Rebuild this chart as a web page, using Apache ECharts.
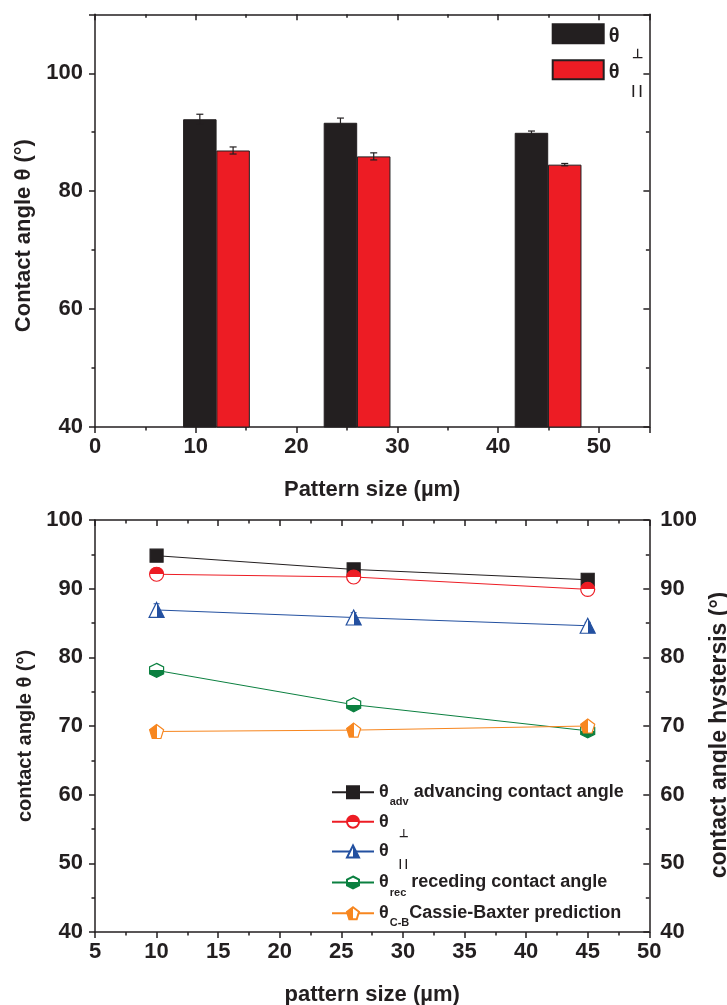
<!DOCTYPE html>
<html><head><meta charset="utf-8">
<script src="https://cdn.jsdelivr.net/npm/echarts@6/dist/echarts.min.js"></script>
<style>html,body{margin:0;padding:0;background:#fff}#c{width:727px;height:1005px}</style>
</head><body><div id="c"></div>
<script>
// ---------- top chart (bars) ----------
const barXPerp = [10.4, 24.35, 43.3];      // x centre of θ⊥ bars
const barXPar  = [13.7, 27.65, 46.6];      // x centre of θ|| bars
const barPerp  = [92.2, 91.6, 89.9];
const barPar   = [86.9, 85.9, 84.5];
const errBarPerp = [0.85, 0.8, 0.3];
const errBarPar  = [0.6, 0.6, 0.2];

// ---------- bottom chart (lines) ----------
const patternSizes = [10, 26, 45];
const thetaAdv  = [94.8, 92.8, 91.3];
const thetaPerp = [92.1, 91.7, 89.9];
const thetaPar  = [86.9, 85.8, 84.6];
const thetaRec  = [78.1, 73.1, 69.3];
const thetaCB   = [69.2, 69.4, 70.0];
const errAdv  = [0.8, 0.4, 0.3];
const errPerp = [0.9, 0.5, 0.3];
const errPar  = [0.9, 0.7, 0.5];
const errRec  = [0.6, 0.6, 0.4];

const legendLabels = {
  perpBar: '{M|θ}{Q|⊥}',
  parBar:  '{M|θ}{Q|| |}',
  adv:  '{m|θ}{s|adv}{m| advancing contact angle}',
  perp: '{m|θ}{q|⊥}',
  par:  '{m|θ}{q|| |}',
  rec:  '{m|θ}{s|rec}{m| receding contact angle}',
  cb:   '{m|θ}{s|C-B}{m|Cassie-Baxter prediction}'
};

const TXT = '#231f20';
const FONT = '"Liberation Sans", Arial, Helvetica, sans-serif';
const C_BLACK = '#231f20', C_RED = '#ed1c24', C_BLUE = '#2350a0', C_GREEN = '#0b8040', C_ORANGE = '#f7861f';

const grids = [
  {left: 95, top: 14.3, width: 554.4, height: 412.7, containLabel: false, outerBoundsMode: 'none'},
  {left: 95, top: 520, width: 554.3, height: 412, containLabel: false, outerBoundsMode: 'none'}
];

const lineSt = {color: TXT, width: 1.5};
function mkAxes(dim, gridIndex, min, max, major, minor, posMain, posMirror, main, mirror) {
  const base = {gridIndex, type: 'value', min, max, silent: true,
    splitLine: {show: false}, axisLine: {show: false, onZero: false},
    axisLabel: {show: false}, axisTick: {show: false}};
  const fmt = v => (Math.abs(((v - min) / major) - Math.round((v - min) / major)) < 1e-6 ? String(v) : '');
  const label = {show: true, color: TXT, fontSize: 22, fontWeight: 'bold', fontFamily: FONT, margin: main.margin, formatter: fmt};
  const nameStyle = (pad, size) => ({color: TXT, fontSize: size || 22, fontWeight: 'bold', fontFamily: FONT, padding: pad || 0});
  const res = [];
  res.push(Object.assign({}, base, {
    position: posMain, interval: major,
    axisLine: {show: true, onZero: false, lineStyle: lineSt},
    axisTick: {show: true, inside: false, length: 6, lineStyle: lineSt},
    axisLabel: label,
    name: main.name, nameLocation: 'middle', nameGap: main.nameGap,
    nameRotate: dim === 'y' ? 90 : 0,
    nameTextStyle: nameStyle(main.pad, main.nameSize)
  }));
  res.push(Object.assign({}, base, {
    position: posMain, interval: minor,
    axisTick: {show: true, inside: false, length: 3.5, lineStyle: lineSt}
  }));
  const mir = Object.assign({}, base, {
    position: posMirror, interval: major,
    axisLine: {show: true, onZero: false, lineStyle: lineSt},
    axisTick: {show: true, inside: true, length: 6, lineStyle: lineSt}
  });
  if (mirror && mirror.labels) {
    mir.axisLabel = Object.assign({}, label, {margin: mirror.margin});
    mir.name = mirror.name; mir.nameLocation = 'middle'; mir.nameGap = mirror.nameGap;
    mir.nameRotate = 90;
    mir.nameTextStyle = nameStyle(mirror.pad, mirror.nameSize);
  }
  res.push(mir);
  res.push(Object.assign({}, base, {
    position: posMirror, interval: minor,
    axisTick: {show: true, inside: true, length: 3.5, lineStyle: lineSt}
  }));
  return res;
}

const xAxes = [].concat(
  mkAxes('x', 0, 0, 55, 10, 5, 'bottom', 'top', {name: 'Pattern size (µm)', nameGap: 52, margin: 9}),
  mkAxes('x', 1, 5, 50, 5, 2.5, 'bottom', 'top', {name: 'pattern size (µm)', nameGap: 52, margin: 9})
);
const yAxes = [].concat(
  mkAxes('y', 0, 40, 110, 20, 10, 'left', 'right', {name: 'Contact angle θ (°)', nameGap: 58, margin: 12, pad: [0, 30, 0, 0]}),
  mkAxes('y', 1, 40, 100, 10, 5, 'left', 'right', {name: 'contact angle θ (°)', nameGap: 57, margin: 12, pad: [0, 20, 0, 0], nameSize: 20},
    {labels: true, name: 'contact angle hystersis (°)', nameGap: 55, margin: 11, pad: [0, 18, 0, 0], nameSize: 23})
);

function errSeries(xIdx, yIdx, xs, ys, es, color, capHalf, width) {
  return {
    type: 'custom', xAxisIndex: xIdx, yAxisIndex: yIdx, silent: true, z: 3,
    data: xs.map((x, i) => [x, ys[i], es[i]]),
    encode: {x: 0, y: 1},
    renderItem: function (params, api) {
      const x = api.value(0), y = api.value(1), e = api.value(2);
      const hi = api.coord([x, y + e]), lo = api.coord([x, y - e]);
      const st = {stroke: color, lineWidth: width};
      return {type: 'group', children: [
        {type: 'line', shape: {x1: hi[0], y1: hi[1], x2: lo[0], y2: lo[1]}, style: st},
        {type: 'line', shape: {x1: hi[0] - capHalf, y1: hi[1], x2: hi[0] + capHalf, y2: hi[1]}, style: st},
        {type: 'line', shape: {x1: lo[0] - capHalf, y1: lo[1], x2: lo[0] + capHalf, y2: lo[1]}, style: st}
      ]};
    }
  };
}

function half(color, vertical, colorFirst) {
  const a = colorFirst ? color : '#ffffff', b = colorFirst ? '#ffffff' : color;
  return {type: 'linear', x: 0, y: 0, x2: vertical ? 0 : 1, y2: vertical ? 1 : 0,
    colorStops: [{offset: 0, color: a}, {offset: 0.5, color: a}, {offset: 0.5, color: b}, {offset: 1, color: b}]};
}

const HEX = 'path://M50,0 L93.3,25 L93.3,75 L50,100 L6.7,75 L6.7,25 Z';
const PENT = 'path://M50,0 L97.6,34.5 L79.4,90.5 L20.6,90.5 L2.4,34.5 Z';

function lineSeries(name, ys, color, symbol, size, fill) {
  return {
    type: 'line', name, xAxisIndex: 4, yAxisIndex: 4, z: 5,
    data: patternSizes.map((x, i) => [x, ys[i]]),
    symbol, symbolSize: size, showSymbol: true,
    lineStyle: {color, width: 1},
    itemStyle: {color: fill, borderColor: color, borderWidth: 1.2},
    emphasis: {disabled: true}
  };
}

const series = [
  {type: 'bar', name: 'perpBar', xAxisIndex: 0, yAxisIndex: 0, barWidth: 33.5, barGap: '-100%',
   data: barXPerp.map((x, i) => [x, barPerp[i]]),
   itemStyle: {color: C_BLACK, borderColor: '#231f20', borderWidth: 1}, emphasis: {disabled: true}},
  {type: 'bar', name: 'parBar', xAxisIndex: 0, yAxisIndex: 0, barWidth: 33.5, barGap: '-100%',
   data: barXPar.map((x, i) => [x, barPar[i]]),
   itemStyle: {color: C_RED, borderColor: '#231f20', borderWidth: 1}, emphasis: {disabled: true}},
  errSeries(0, 0, barXPerp, barPerp, errBarPerp, '#231f20', 3.5, 1.2),
  errSeries(0, 0, barXPar, barPar, errBarPar, '#231f20', 3.5, 1.2),

  errSeries(4, 4, patternSizes, thetaAdv, errAdv, '#888888', 3, 1),
  errSeries(4, 4, patternSizes, thetaPerp, errPerp, C_RED, 3, 1),
  errSeries(4, 4, patternSizes, thetaPar, errPar, C_BLUE, 3, 1),
  errSeries(4, 4, patternSizes, thetaRec, errRec, C_GREEN, 3, 1),
  lineSeries('adv', thetaAdv, C_BLACK, 'rect', 13, C_BLACK),
  lineSeries('perp', thetaPerp, C_RED, 'circle', 14, half(C_RED, true, true)),
  lineSeries('par', thetaPar, C_BLUE, 'triangle', 15, half(C_BLUE, false, false)),
  lineSeries('rec', thetaRec, C_GREEN, HEX, 14, half(C_GREEN, true, false)),
  lineSeries('cb', thetaCB, C_ORANGE, PENT, 14, half(C_ORANGE, false, true))
];

const tok = (size, padTop, padLeft) => ({fontSize: size, lineHeight: size, fontWeight: 'bold', fontFamily: FONT,
  color: TXT, verticalAlign: 'top', padding: [padTop, 0, 0, padLeft || 0]});
const richBottom = {m: tok(18, 0), s: tok(11, 13.5, 1), q: tok(11, 15.5, 10)};
const richTop = {M: tok(20, 3), Q: tok(13, 24, 12)};

function mkLegend(name, left, top, w, h, rich, icon) {
  const l = {data: [name], left, top, itemWidth: w, itemHeight: h, padding: 0, selectedMode: false,
    itemGap: 5, formatter: n => legendLabels[n],
    textStyle: {color: TXT, fontFamily: FONT, fontWeight: 'bold', rich}};
  if (icon) l.icon = icon;
  return l;
}
const legendRowsBottom = [783.2, 812.8, 842.5, 873.5, 904.2];
const legends = [
  mkLegend('perpBar', 551.7, 23.3, 51, 19, richTop, 'rect'),
  mkLegend('parBar', 551.7, 59.3, 51, 19, richTop, 'rect'),
  mkLegend('adv', 331, legendRowsBottom[0], 42, 15, richBottom),
  mkLegend('perp', 331, legendRowsBottom[1], 42, 15, richBottom),
  mkLegend('par', 331, legendRowsBottom[2], 42, 15, richBottom),
  mkLegend('rec', 331, legendRowsBottom[3], 42, 15, richBottom),
  mkLegend('cb', 331, legendRowsBottom[4], 42, 15, richBottom)
];

const chart = echarts.init(document.getElementById('c'), null, {renderer: 'canvas'});
chart.setOption({
  animation: false,
  backgroundColor: '#ffffff',
  grid: grids,
  xAxis: xAxes,
  yAxis: yAxes,
  legend: legends,
  series
});
</script></body></html>
